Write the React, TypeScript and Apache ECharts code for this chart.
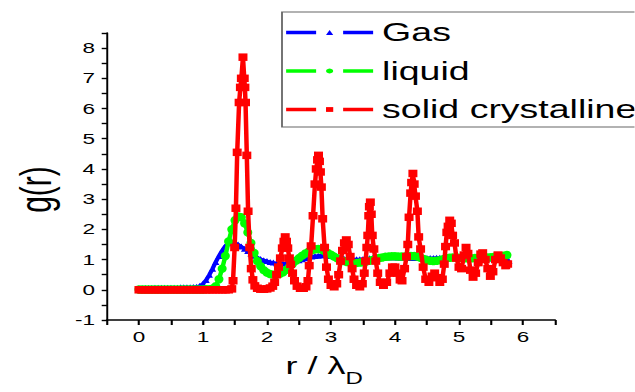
import React, { useEffect, useRef } from 'react';
import * as echarts from 'echarts';

// The reference picture is stretched horizontally by ~1.5; the chart is drawn
// narrower and stretched with a CSS transform so that its texts match.
const STRETCH = 1.5;
const PAGE_W = 635;
const PAGE_H = 392;
const CHART_W = PAGE_W / STRETCH;

const seriesNames = ['Gas', 'liquid', 'solid crystalline'];

// g(r) for the gas phase: [r / lambda_D, g(r)]
const gas: [number, number][] = [
  [0, 0.05], [0.05, 0.05], [0.1, 0.06], [0.15, 0.06], [0.2, 0.06], [0.25, 0.07], [0.3, 0.07],
  [0.35, 0.07], [0.4, 0.07], [0.45, 0.07], [0.5, 0.07], [0.55, 0.07], [0.6, 0.07], [0.65, 0.08],
  [0.7, 0.08], [0.75, 0.08], [0.8, 0.08], [0.85, 0.09], [0.9, 0.1], [0.95, 0.13], [1.0, 0.2],
  [1.05, 0.32], [1.1, 0.5], [1.15, 0.7], [1.2, 0.92], [1.25, 1.12], [1.3, 1.3], [1.35, 1.45],
  [1.4, 1.54], [1.45, 1.57], [1.5, 1.55], [1.55, 1.5], [1.6, 1.43], [1.65, 1.36], [1.7, 1.28],
  [1.75, 1.2], [1.8, 1.13], [1.85, 1.07], [1.9, 1.02], [1.95, 0.98], [2.0, 0.95], [2.05, 0.92],
  [2.1, 0.9], [2.15, 0.88], [2.2, 0.87], [2.25, 0.87], [2.3, 0.88], [2.35, 0.9], [2.4, 0.92],
  [2.45, 0.95], [2.5, 0.98], [2.55, 1.01], [2.6, 1.04], [2.65, 1.07], [2.7, 1.1], [2.75, 1.12],
  [2.8, 1.13], [2.85, 1.14], [2.9, 1.14], [2.95, 1.13], [3.0, 1.12], [3.05, 1.1], [3.1, 1.08],
  [3.15, 1.06], [3.2, 1.04], [3.25, 1.03], [3.3, 1.02], [3.35, 1.01], [3.4, 1.01], [3.45, 1.01],
  [3.5, 1.02], [3.55, 1.03], [3.6, 1.04], [3.65, 1.05], [3.7, 1.06], [3.75, 1.07], [3.8, 1.07],
  [3.85, 1.08], [3.9, 1.08], [3.95, 1.08], [4.0, 1.08], [4.05, 1.07], [4.1, 1.07], [4.15, 1.06],
  [4.2, 1.06], [4.25, 1.05], [4.3, 1.05], [4.35, 1.05], [4.4, 1.05], [4.45, 1.05], [4.5, 1.05],
  [4.55, 1.05], [4.6, 1.05], [4.65, 1.06], [4.7, 1.06], [4.75, 1.06], [4.8, 1.06], [4.85, 1.06],
  [4.9, 1.06], [4.95, 1.06], [5.0, 1.06], [5.05, 1.06], [5.1, 1.05], [5.15, 1.05], [5.2, 1.05],
  [5.25, 1.05], [5.3, 1.05], [5.35, 1.05], [5.4, 1.05], [5.45, 1.04], [5.5, 1.04], [5.55, 1.03],
  [5.6, 1.02], [5.65, 1.0], [5.7, 0.98], [5.75, 0.96], [5.78, 0.95],
];

// g(r) for the liquid phase
const liquid: [number, number][] = [
  [0, 0.01], [0.05, 0.01], [0.1, 0.01], [0.15, 0.01], [0.2, 0.01], [0.25, 0.01], [0.3, 0.01],
  [0.35, 0.01], [0.4, 0.01], [0.45, 0.01], [0.5, 0.01], [0.55, 0.01], [0.6, 0.01], [0.65, 0.01],
  [0.7, 0.01], [0.75, 0.01], [0.8, 0.01], [0.85, 0.01], [0.9, 0.01], [0.95, 0.01], [1.0, 0.01],
  [1.05, 0.02], [1.1, 0.02], [1.15, 0.04], [1.2, 0.12], [1.25, 0.35], [1.3, 0.7], [1.35, 1.12],
  [1.4, 1.6], [1.45, 2.0], [1.5, 2.3], [1.55, 2.43], [1.6, 2.4], [1.65, 2.2], [1.7, 1.9],
  [1.75, 1.55], [1.8, 1.22], [1.85, 0.95], [1.9, 0.78], [1.95, 0.65], [2.0, 0.57], [2.05, 0.52],
  [2.1, 0.5], [2.15, 0.5], [2.2, 0.53], [2.25, 0.58], [2.3, 0.66], [2.35, 0.76], [2.4, 0.86],
  [2.45, 0.96], [2.5, 1.05], [2.55, 1.13], [2.6, 1.2], [2.65, 1.26], [2.7, 1.31], [2.75, 1.34],
  [2.8, 1.35], [2.85, 1.33], [2.9, 1.28], [2.95, 1.22], [3.0, 1.16], [3.05, 1.1], [3.1, 1.04],
  [3.15, 0.99], [3.2, 0.95], [3.25, 0.92], [3.3, 0.9], [3.35, 0.89], [3.4, 0.89], [3.45, 0.9],
  [3.5, 0.91], [3.55, 0.93], [3.6, 0.96], [3.65, 0.99], [3.7, 1.02], [3.75, 1.05], [3.8, 1.07],
  [3.85, 1.09], [3.9, 1.1], [3.95, 1.11], [4.0, 1.11], [4.05, 1.1], [4.1, 1.1], [4.15, 1.1],
  [4.2, 1.11], [4.25, 1.12], [4.3, 1.12], [4.35, 1.1], [4.4, 1.06], [4.45, 1.02], [4.5, 0.98],
  [4.55, 0.96], [4.6, 0.95], [4.65, 0.96], [4.7, 0.98], [4.75, 1.01], [4.8, 1.04], [4.85, 1.06],
  [4.9, 1.07], [4.95, 1.07], [5.0, 1.06], [5.05, 1.05], [5.1, 1.04], [5.15, 1.04], [5.2, 1.04],
  [5.25, 1.05], [5.3, 1.06], [5.35, 1.07], [5.4, 1.07], [5.45, 1.07], [5.5, 1.08], [5.55, 1.09],
  [5.6, 1.1], [5.65, 1.11], [5.7, 1.13], [5.75, 1.15],
];

// g(r) for the solid crystalline phase
const solid: [number, number][] = [
  [0, 0], [0.05, 0], [0.1, 0], [0.15, 0], [0.2, 0], [0.25, 0], [0.3, 0], [0.35, 0], [0.4, 0],
  [0.45, 0], [0.5, 0], [0.55, 0], [0.6, 0], [0.65, 0], [0.7, 0], [0.75, 0], [0.8, 0], [0.85, 0],
  [0.9, 0], [0.95, 0], [1.0, 0], [1.05, 0], [1.1, 0], [1.15, 0], [1.2, 0], [1.25, 0], [1.3, 0],
  [1.35, 0], [1.4, 0], [1.45, 0.03], [1.47, 0.3], [1.495, 1.4], [1.515, 2.7], [1.535, 4.55],
  [1.565, 6.2], [1.585, 6.7], [1.6, 7.0], [1.625, 7.7], [1.645, 7.0], [1.655, 6.7], [1.665, 6.2],
  [1.685, 4.45], [1.705, 2.6], [1.73, 1.4], [1.755, 0.7], [1.78, 0.33], [1.81, 0.13], [1.85, 0.05],
  [1.9, 0.02], [1.95, 0.02], [2.0, 0.03], [2.05, 0.06], [2.09, 0.12], [2.12, 0.25], [2.15, 0.5],
  [2.18, 0.75], [2.21, 1.05], [2.24, 1.38], [2.265, 1.6], [2.285, 1.75], [2.305, 1.6], [2.325, 1.38],
  [2.35, 1.05], [2.37, 0.84], [2.4, 0.55], [2.43, 0.3], [2.47, 0.12], [2.52, 0.05], [2.57, 0.05],
  [2.61, 0.1], [2.64, 0.3], [2.66, 0.8], [2.69, 1.45], [2.72, 2.45], [2.75, 3.5], [2.77, 4.0],
  [2.79, 4.3], [2.805, 4.45], [2.82, 4.25], [2.835, 3.9], [2.85, 3.4], [2.87, 2.35], [2.9, 1.4],
  [2.93, 0.75], [2.96, 0.35], [3.0, 0.15], [3.05, 0.1], [3.09, 0.2], [3.12, 0.5], [3.15, 0.95],
  [3.18, 1.3], [3.21, 1.55], [3.24, 1.65], [3.27, 1.5], [3.3, 1.1], [3.33, 0.7], [3.36, 0.35],
  [3.4, 0.15], [3.45, 0.1], [3.49, 0.2], [3.52, 0.55], [3.54, 0.95], [3.56, 1.4], [3.575, 1.8],
  [3.59, 2.45], [3.6, 2.75], [3.615, 2.9], [3.63, 2.5], [3.645, 1.8], [3.67, 1.35], [3.7, 0.95],
  [3.73, 0.55], [3.77, 0.25], [3.82, 0.15], [3.87, 0.25], [3.92, 0.55], [3.96, 0.75], [4.0, 0.75],
  [4.04, 0.55], [4.08, 0.33], [4.11, 0.3], [4.15, 0.7], [4.18, 1.1], [4.2, 1.5], [4.22, 2.4],
  [4.245, 3.2], [4.26, 3.55], [4.28, 3.85], [4.3, 3.5], [4.32, 3.1], [4.35, 2.6], [4.37, 1.75],
  [4.4, 1.35], [4.44, 0.75], [4.48, 0.35], [4.53, 0.25], [4.58, 0.45], [4.62, 0.55], [4.66, 0.4],
  [4.7, 0.25], [4.74, 0.35], [4.77, 0.85], [4.79, 1.43], [4.81, 1.9], [4.83, 2.1], [4.855, 2.3],
  [4.88, 2.2], [4.9, 1.8], [4.93, 1.55], [4.96, 1.05], [5.0, 0.75], [5.04, 0.7], [5.08, 1.15],
  [5.11, 1.4], [5.14, 1.2], [5.18, 0.65], [5.22, 0.42], [5.26, 0.55], [5.3, 0.9], [5.34, 1.18],
  [5.37, 1.22], [5.41, 1.0], [5.45, 0.7], [5.49, 0.45], [5.53, 0.6], [5.57, 1.0], [5.61, 1.15],
  [5.65, 1.05], [5.69, 0.9], [5.73, 0.8], [5.76, 0.85],
];

const FONT = '"Liberation Sans", Arial, sans-serif';

const intLabel = (v: number) => (Math.abs(v - Math.round(v)) < 1e-9 ? String(Math.round(v)) : '');

export default function App() {
  const ref = useRef<HTMLDivElement>(null);

  useEffect(() => {
    if (!ref.current) return;
    const chart = echarts.init(ref.current, null, { renderer: 'svg', width: CHART_W, height: PAGE_H });
    const mk = (name: string, data: [number, number][], color: string, symbol: string, size: number[], z: number) => ({
      name,
      type: 'line',
      data,
      symbol,
      symbolSize: size,
      showAllSymbol: true,
      clip: true,
      z,
      lineStyle: { color, width: 3 },
      itemStyle: { color },
      emphasis: { disabled: true },
    });
    chart.setOption({
      animation: false,
      backgroundColor: '#fff',
      textStyle: { fontFamily: FONT },
      grid: { left: 71.3, right: CHART_W - 370, top: 33, bottom: 65 },
      legend: {
        data: seriesNames,
        orient: 'vertical',
        left: 188,
        top: 12,
        padding: [8, 40, 5, 1],
        itemGap: 13.5,
        itemWidth: 58,
        itemHeight: 6,
        borderColor: '#666',
        borderWidth: 1.2,
        backgroundColor: '#fff',
        lineStyle: { width: 3.5, type: [20, 18] },
        textStyle: { fontSize: 25, color: '#000', fontFamily: FONT, padding: [0, 0, 0, 1] },
        selectedMode: false,
      },
      xAxis: {
        type: 'value',
        min: -0.5,
        max: 6.5,
        interval: 0.5,
        name: '{a|r / λ}{b|D}',
        nameLocation: 'middle',
        nameGap: 33,
        nameTextStyle: {
          padding: [0, 9, 0, 0],
          rich: {
            a: { fontSize: 24, lineHeight: 24, verticalAlign: 'top', color: '#000', fontFamily: FONT },
            b: { fontSize: 16, lineHeight: 34, verticalAlign: 'bottom', padding: [18, 0, 0, 0], color: '#000', fontFamily: FONT },
          },
        },
        axisLine: { show: true, onZero: false, lineStyle: { color: '#000', width: 1.6 } },
        axisTick: { show: true, length: 5, lineStyle: { color: '#000', width: 1.4 } },
        axisLabel: { formatter: intLabel, fontSize: 15, color: '#000', margin: 9, fontFamily: FONT },
        splitLine: { show: false },
      },
      yAxis: {
        type: 'value',
        min: -1,
        max: 8.5,
        interval: 0.5,
        name: 'g(r)',
        nameLocation: 'middle',
        nameGap: 33,
        nameTextStyle: { fontSize: 30, color: '#000', fontFamily: FONT, padding: [0, 26, 0, 0] },
        axisLine: { show: true, onZero: false, lineStyle: { color: '#000', width: 1.3 } },
        axisTick: { show: true, length: 3.5, lineStyle: { color: '#000', width: 1.4 } },
        axisLabel: { formatter: intLabel, fontSize: 15, color: '#000', margin: 8, fontFamily: FONT },
        splitLine: { show: false },
      },
      series: [
        mk(seriesNames[0], gas, '#0000ff', 'triangle', [4.8, 6], 2),
        mk(seriesNames[1], liquid, '#00ff00', 'circle', [6, 8.5], 3),
        mk(seriesNames[2], solid, '#ff0000', 'rect', [6, 7.5], 4),
      ],
    });
    return () => chart.dispose();
  }, []);

  return (
    <div style={{ position: 'absolute', left: 0, top: 0, width: PAGE_W, height: PAGE_H, overflow: 'hidden', background: '#fff' }}>
      <div
        ref={ref}
        style={{ width: CHART_W, height: PAGE_H, transform: `scaleX(${STRETCH})`, transformOrigin: '0 0' }}
      />
    </div>
  );
}
